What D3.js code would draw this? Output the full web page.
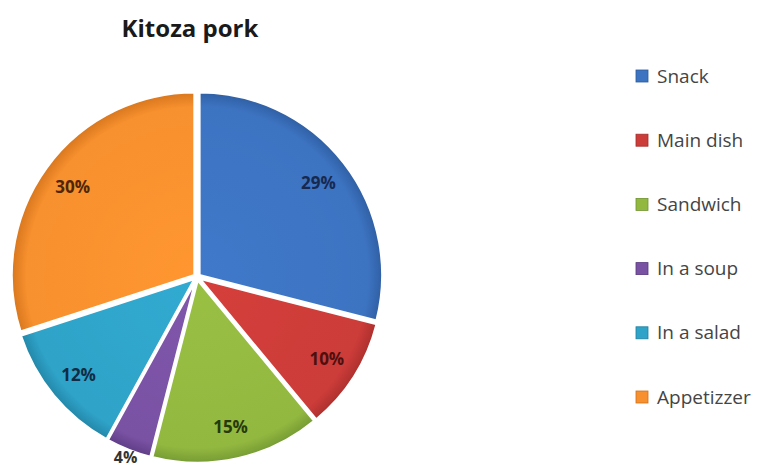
<!DOCTYPE html>
<html>
<head>
<meta charset="utf-8">
<script src="https://cdn.jsdelivr.net/npm/d3@7"></script>
<style>
  html, body { margin: 0; padding: 0; background: #ffffff; }
  svg { display: block; }
</style>
</head>
<body>
<svg id="chart" width="760" height="473"></svg>
<script>
// Kitoza pork: how it is eaten (share of answers)
const categories = ["Snack", "Main dish", "Sandwich", "In a soup", "In a salad", "Appetizzer"];
const shares = [29, 10, 15, 4, 12, 30];
const sliceColors = ["#3d74c2", "#cc3c39", "#93b840", "#7a52a4", "#2fa3c8", "#f7902e"];
const edgeColors = ["#2c5a9c", "#a42d2b", "#6e9330", "#58387e", "#1f7fa0", "#d0701a"];
const labelColors = ["#17294f", "#4e100f", "#263a0c", "#333333", "#112c44", "#4f2604"];

const svg = d3.select("#chart");
const cx = 197, cy = 277, radius = 183;

// Title
svg.append("text")
  .attr("x", 190).attr("y", 37)
  .attr("text-anchor", "middle")
  .attr("font-family", "'Open Sans', Lato, sans-serif")
  .attr("font-weight", "bold")
  .attr("font-size", 24)
  .attr("fill", "#1a1a1a")
  .text("Kitoza pork");

// Shading gradients per slice (coordinates relative to the pie centre)
const defs = svg.append("defs");
categories.forEach((c, i) => {
  const gr = defs.append("radialGradient")
    .attr("id", "grad" + i)
    .attr("gradientUnits", "userSpaceOnUse")
    .attr("cx", 0).attr("cy", 0).attr("r", radius + 4);
  gr.append("stop").attr("offset", "0%").attr("stop-color", d3.color(sliceColors[i]).brighter(0.12));
  gr.append("stop").attr("offset", "90%").attr("stop-color", sliceColors[i]);
  gr.append("stop").attr("offset", "100%").attr("stop-color", edgeColors[i]);
});

const pie = d3.pie().sort(null).value(d => d.value);
const arcs = pie(categories.map((c, i) => ({ name: c, value: shares[i], i })));

const arc = d3.arc().innerRadius(0).outerRadius(radius);
const explode = 3;

const g = svg.append("g").attr("transform", `translate(${cx},${cy})`);

g.selectAll("path.slice")
  .data(arcs)
  .join("path")
  .attr("class", "slice")
  .attr("transform", d => {
    const a = (d.startAngle + d.endAngle) / 2;
    return `translate(${Math.sin(a) * explode},${-Math.cos(a) * explode})`;
  })
  .attr("d", arc)
  .attr("fill", d => `url(#grad${d.data.i})`)
  .attr("stroke", "#ffffff")
  .attr("stroke-width", 2.5)
  .attr("stroke-linejoin", "round");

// Percentage labels: inside for wide slices, just outside for narrow ones
const labelArc = d3.arc().innerRadius(radius * 0.84).outerRadius(radius * 0.84);
const outerLabelArc = d3.arc().innerRadius(radius * 1.06).outerRadius(radius * 1.06);
g.selectAll("text.pct")
  .data(arcs)
  .join("text")
  .attr("class", "pct")
  .attr("transform", d => {
    const p = d.data.value < 5 ? outerLabelArc.centroid(d) : labelArc.centroid(d);
    return `translate(${p[0]},${p[1]})`;
  })
  .attr("text-anchor", "middle")
  .attr("dy", "0.35em")
  .attr("font-family", "'Open Sans', Lato, sans-serif")
  .attr("font-weight", "bold")
  .attr("font-size", d => d.data.value < 5 ? 16 : 17)
  .attr("fill", d => labelColors[d.data.i])
  .text(d => d.data.value + "%");

// Legend
const legendY = d3.scalePoint().domain(categories).range([76, 397]);
const legend = svg.append("g");
const items = legend.selectAll("g.item")
  .data(categories)
  .join("g")
  .attr("class", "item")
  .attr("transform", d => `translate(636,${legendY(d)})`);
items.append("rect")
  .attr("x", 0).attr("y", -6)
  .attr("width", 12).attr("height", 12)
  .attr("fill", (d, i) => sliceColors[i])
  .attr("stroke", (d, i) => edgeColors[i])
  .attr("stroke-width", 0.8);
items.append("text")
  .attr("x", 21).attr("y", 0)
  .attr("dy", "0.35em")
  .attr("font-family", "'Open Sans', Lato, sans-serif")
  .attr("font-size", 19)
  .attr("fill", "#454545")
  .text(d => d);
</script>
</body>
</html>
